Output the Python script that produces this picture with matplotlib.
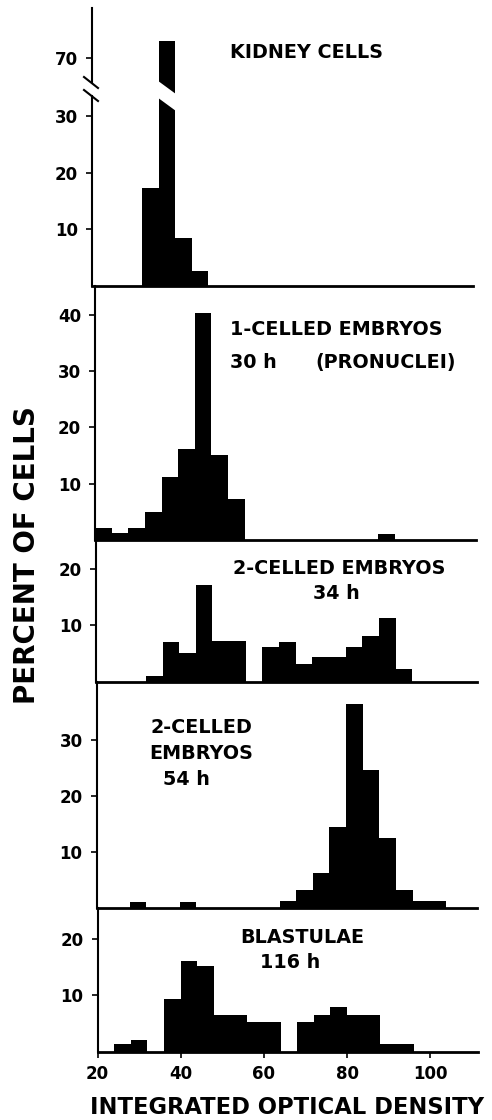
import matplotlib.pyplot as plt
from matplotlib.patches import Polygon
from matplotlib.lines import Line2D

plt.rcParams['font.family'] = ['DejaVu Sans']
plt.rcParams['font.weight'] = 'bold'

# left edge of each histogram bin (integrated optical density) and percent of cells
bin_width = 4

kidney_bins = [32, 36, 40, 44]
kidney_pct = [17.4, 73, 8.5, 2.7]

one_cell_bins = [20, 24, 28, 32, 36, 40, 44, 48, 52, 88]
one_cell_pct = [2.1, 1.2, 2.2, 5.0, 11.1, 16.2, 40.3, 15.1, 7.2, 1.1]

two_cell_34_bins = [32, 36, 40, 44, 48, 52, 60, 64, 68, 72, 76, 80, 84, 88, 92]
two_cell_34_pct = [1.1, 7.1, 5.2, 17.1, 7.2, 7.2, 6.2, 7.1, 3.2, 4.4, 4.4, 6.2, 8.1, 11.3, 2.3]

two_cell_54_bins = [28, 40, 64, 68, 72, 76, 80, 84, 88, 92, 96, 100]
two_cell_54_pct = [1.1, 1.1, 1.3, 3.2, 6.2, 14.4, 36.5, 24.7, 12.5, 3.2, 1.3, 1.3]

blastulae_bins = [24, 28, 36, 40, 44, 48, 52, 56, 60, 68, 72, 76, 80, 84, 88, 92]
blastulae_pct = [1.25, 2.1, 9.3, 16.2, 15.2, 6.6, 6.6, 5.2, 5.2, 5.2, 6.6, 7.9, 6.6, 6.6, 1.25, 1.25]

x_ticks = [20, 40, 60, 80, 100]

W, H = 492, 1120
PX_PER_UNIT = 4.16
XLIM = (20, 111.5)

fig = plt.figure(figsize=(W / 100, H / 100), dpi=100)


def make_axes(left, top, bottom, ylim, yticks):
    # boxes are given in pixels from the top-left corner of the picture
    width = (XLIM[1] - XLIM[0]) * PX_PER_UNIT
    ax = fig.add_axes([left / W, 1 - bottom / H, width / W, (bottom - top) / H])
    ax.set_facecolor('none')
    ax.set_xlim(*XLIM)
    ax.set_ylim(*ylim)
    ax.spines[['top', 'right']].set_visible(False)
    ax.spines['left'].set_linewidth(1.5)
    ax.spines['bottom'].set_linewidth(2.0)
    ax.set_yticks(yticks)
    ax.tick_params(axis='y', direction='out', length=4, width=1.2, pad=6, labelsize=12)
    ax.tick_params(axis='x', bottom=False, labelbottom=False)
    return ax


def draw_bars(ax, bins, pct):
    ax.bar(bins, pct, width=bin_width, align='edge', color='black', linewidth=0)


txt = dict(fontsize=13.8, fontweight='bold', va='center')

# kidney cells, broken y axis
kid_top = make_axes(92, 8, 88, (64.7, 78.85), [70])
kid_top.spines['bottom'].set_visible(False)
kid_top.spines['left'].set_bounds(65.8, 78.85)
draw_bars(kid_top, kidney_bins, kidney_pct)
kid_top.text(53.2, 70.9, 'KIDNEY CELLS', ha='left', **txt)

kid_bot = make_axes(92, 88, 286, (0, 35.04), [10, 20, 30])
kid_bot.spines['left'].set_bounds(0, 33.6)
draw_bars(kid_bot, kidney_bins, kidney_pct)

# white diagonal cut through the tall bar
tall = kidney_bins[1]
cut = Polygon([(tall - 0.5, 36.5), (tall + bin_width + 0.5, 33.8),
               (tall + bin_width + 0.5, 30.8), (tall - 0.5, 33.5)],
              closed=True, facecolor='white', edgecolor='none',
              transform=kid_bot.transData, zorder=10)
fig.add_artist(cut)

# break marks on the y axis
for y0, y1 in [(77, 88), (90, 101)]:
    fig.add_artist(Line2D([84 / W, 98 / W], [1 - y0 / H, 1 - y1 / H],
                          color='black', linewidth=1.5, transform=fig.transFigure))

# 1-celled embryos
ax1 = make_axes(95, 286, 540, (0, 45.1), [10, 20, 30, 40])
draw_bars(ax1, one_cell_bins, one_cell_pct)
ax1.text(52.5, 37.3, '1-CELLED EMBRYOS', ha='left', **txt)
ax1.text(52.5, 31.6, '30 h', ha='left', **txt)
ax1.text(73.0, 31.6, '(PRONUCLEI)', ha='left', **txt)

# 2-celled embryos 34 h
ax2 = make_axes(96, 540, 682, (0, 25.1), [10, 20])
draw_bars(ax2, two_cell_34_bins, two_cell_34_pct)
ax2.text(52.9, 20.1, '2-CELLED EMBRYOS', ha='left', **txt)
ax2.text(77.9, 15.7, '34 h', ha='center', **txt)

# 2-celled embryos 54 h
ax3 = make_axes(96.5, 682, 908, (0, 40.4), [10, 20, 30])
draw_bars(ax3, two_cell_54_bins, two_cell_54_pct)
ax3.text(45.2, 32.3, '2-CELLED', ha='center', **txt)
ax3.text(45.2, 27.7, 'EMBRYOS', ha='center', **txt)
ax3.text(36.0, 22.9, '54 h', ha='left', **txt)

# blastulae 116 h
ax4 = make_axes(97.5, 908, 1051.5, (0, 25.6), [10, 20])
draw_bars(ax4, blastulae_bins, blastulae_pct)
ax4.text(69.2, 20.3, 'BLASTULAE', ha='center', **txt)
ax4.text(66.2, 15.8, '116 h', ha='center', **txt)
ax4.set_xticks(x_ticks)
ax4.tick_params(axis='x', bottom=True, labelbottom=True, direction='out',
                length=4, width=1.2, pad=6, labelsize=12)

fig.text(27 / W, 1 - 555 / H, 'PERCENT OF CELLS', rotation=90,
         ha='center', va='center', fontsize=20, fontweight='bold')
fig.text(287 / W, 1 - 1108 / H, 'INTEGRATED OPTICAL DENSITY',
         ha='center', va='center', fontsize=16.3, fontweight='bold')

fig.savefig('out.png', dpi=100)
